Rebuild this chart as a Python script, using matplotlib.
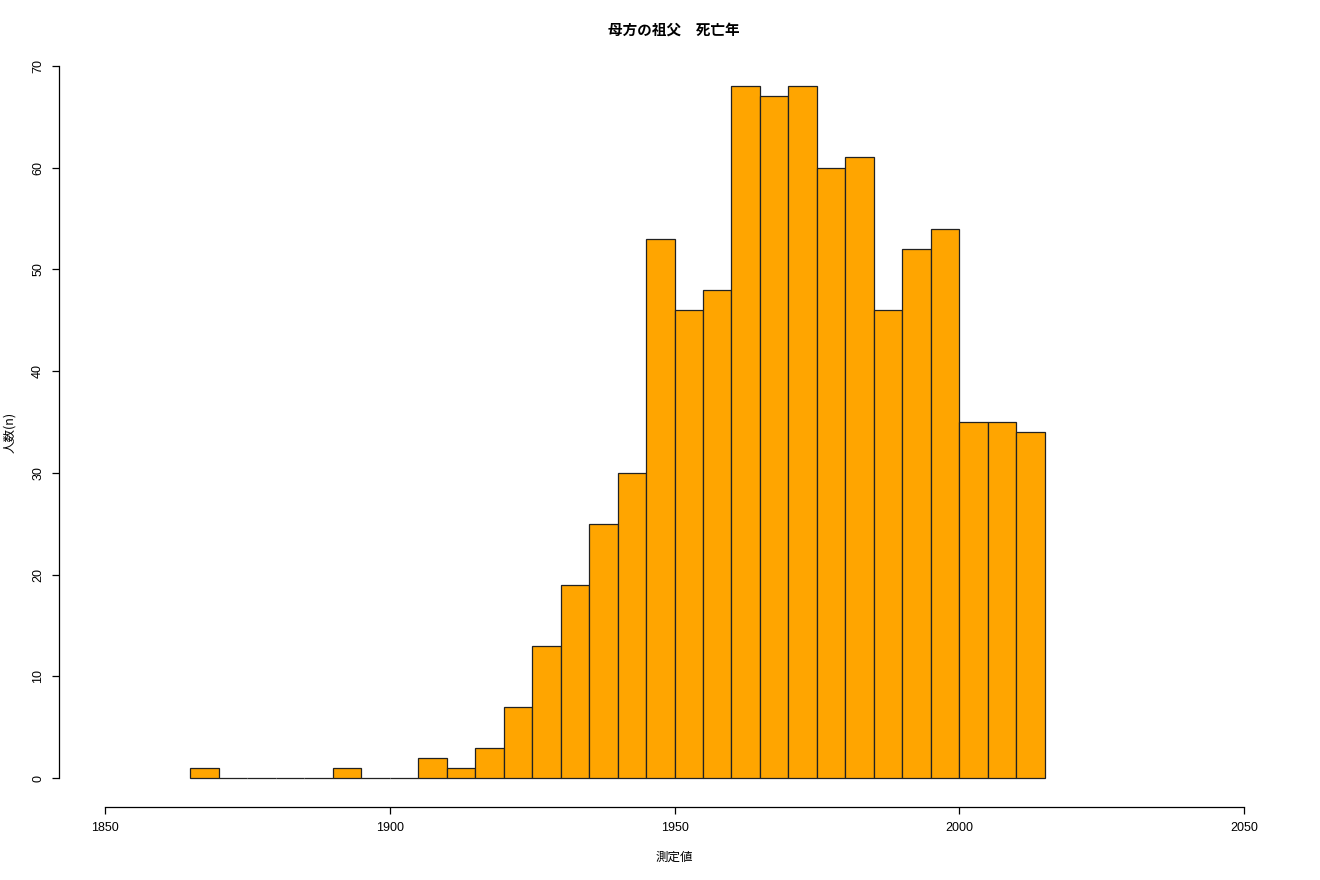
import matplotlib
matplotlib.use("Agg")
import matplotlib.pyplot as plt

plt.rcParams['font.family'] = ['Noto Sans CJK JP', 'DejaVu Sans']

bin_starts = [1865, 1870, 1875, 1880, 1885, 1890, 1895, 1900, 1905, 1910,
              1915, 1920, 1925, 1930, 1935, 1940, 1945, 1950, 1955, 1960,
              1965, 1970, 1975, 1980, 1985, 1990, 1995, 2000, 2005, 2010]
counts = [1, 0, 0, 0, 0, 1, 0, 0, 2, 1,
          3, 7, 13, 19, 25, 30, 53, 46, 48, 68,
          67, 68, 60, 61, 46, 52, 54, 35, 35, 34]
bin_width = 5
x_ticks = [1850, 1900, 1950, 2000, 2050]
y_ticks = [0, 10, 20, 30, 40, 50, 60, 70]
title = "母方の祖父　死亡年"
xlabel = "測定値"
ylabel = "人数(n)"

fig = plt.figure(figsize=(13.2, 8.8), dpi=100)
ax = fig.add_axes([0.045, 0.0835, 0.932, 0.874])

ax.bar(bin_starts, counts, width=bin_width, align='edge',
       color='#FFA500', edgecolor='#222222', linewidth=0.9)

xr = x_ticks[-1] - x_ticks[0]
yr = y_ticks[-1] - y_ticks[0]
ax.set_xlim(x_ticks[0] - 0.04 * xr, x_ticks[-1] + 0.04 * xr)
ax.set_ylim(y_ticks[0] - 0.04 * yr, y_ticks[-1] + 0.04 * yr)

for s in ['top', 'right']:
    ax.spines[s].set_visible(False)
ax.spines['left'].set_bounds(y_ticks[0], y_ticks[-1])
ax.spines['bottom'].set_bounds(x_ticks[0], x_ticks[-1])
ax.spines['left'].set_linewidth(0.9)
ax.spines['bottom'].set_linewidth(0.9)

num_font = ['Liberation Sans', 'DejaVu Sans']
ax.set_xticks(x_ticks)
ax.set_yticks(y_ticks)
ax.set_xticklabels([str(v) for v in x_ticks], fontsize=9, family=num_font)
ax.set_yticklabels([str(v) for v in y_ticks], fontsize=9, rotation=90, va='center', family=num_font)
ax.tick_params(axis='both', length=5, width=0.9, pad=6)

fig.text(674 / 1320, 1 - 30 / 880, title, ha='center', va='center', fontsize=10.5, fontweight='bold')
fig.text(674 / 1320, 1 - 857 / 880, xlabel, ha='center', va='center', fontsize=9)
fig.text(10 / 1320, 1 - 432 / 880, ylabel, ha='center', va='center', fontsize=9, rotation=90)

fig.savefig("out.png", dpi=100, facecolor='white')
